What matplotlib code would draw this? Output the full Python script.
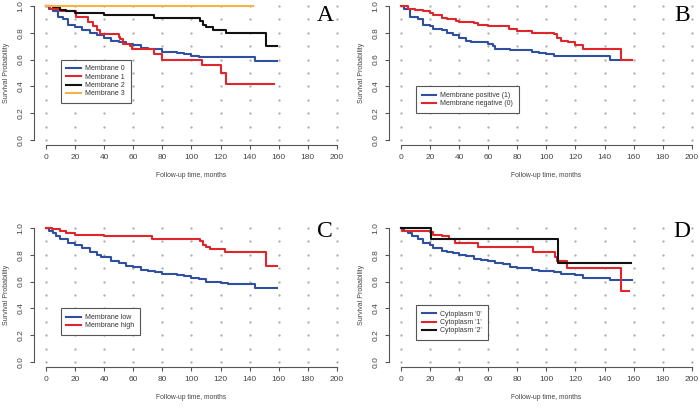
import numpy as np
import matplotlib.pyplot as plt

plt.rcParams['font.family'] = ['Liberation Sans', 'DejaVu Sans']

BLUE = '#2f4fa0'
RED = '#e0252b'
BLACK = '#111111'
ORANGE = '#f2b449'

# Kaplan-Meier steps: (time, survival) pairs, last time = end of curve
# panel A
a_m0_t = [0, 2, 5, 8, 12, 15, 20, 25, 30, 35, 40, 45, 50, 55, 60, 65, 70, 80, 90, 95, 100, 105, 144, 159]
a_m0_s = [1.0, 0.98, 0.96, 0.92, 0.90, 0.86, 0.84, 0.82, 0.80, 0.78, 0.76, 0.74, 0.73, 0.72, 0.71, 0.69, 0.68, 0.66, 0.65, 0.64, 0.63, 0.62, 0.59, 0.59]
a_m1_t = [0, 3, 10, 21, 29, 32, 35, 37, 50, 51, 53, 58, 59, 74, 80, 107, 120, 124, 157]
a_m1_s = [1.0, 0.98, 0.96, 0.92, 0.88, 0.85, 0.82, 0.79, 0.77, 0.75, 0.72, 0.70, 0.68, 0.64, 0.60, 0.56, 0.50, 0.42, 0.42]
a_m2_t = [0, 5, 10, 14, 20, 40, 74, 106, 108, 110, 115, 124, 151, 159]
a_m2_s = [1.0, 0.99, 0.97, 0.96, 0.95, 0.93, 0.91, 0.89, 0.86, 0.84, 0.82, 0.80, 0.70, 0.70]
a_m3_t = [0, 142]
a_m3_s = [1.0, 1.0]

# panel B
b_pos_t = [0, 2, 6, 12, 15, 20, 22, 28, 32, 36, 40, 45, 48, 60, 63, 65, 75, 90, 95, 100, 105, 144, 159]
b_pos_s = [1.0, 0.98, 0.92, 0.90, 0.86, 0.85, 0.83, 0.82, 0.80, 0.78, 0.76, 0.74, 0.73, 0.72, 0.70, 0.68, 0.67, 0.66, 0.65, 0.64, 0.63, 0.60, 0.60]
b_neg_t = [0, 5, 10, 15, 20, 22, 28, 32, 38, 40, 50, 53, 60, 74, 80, 90, 105, 107, 110, 115, 120, 125, 151, 159]
b_neg_s = [1.0, 0.98, 0.97, 0.96, 0.95, 0.93, 0.91, 0.90, 0.89, 0.88, 0.87, 0.86, 0.85, 0.83, 0.81, 0.80, 0.79, 0.76, 0.74, 0.73, 0.71, 0.68, 0.60, 0.60]

# panel C
c_low_t = [0, 2, 5, 7, 10, 15, 20, 25, 30, 35, 38, 45, 50, 55, 60, 65, 70, 75, 80, 90, 95, 100, 105, 110, 120, 125, 144, 159]
c_low_s = [1.0, 0.98, 0.96, 0.94, 0.92, 0.89, 0.87, 0.85, 0.82, 0.80, 0.78, 0.75, 0.74, 0.72, 0.71, 0.69, 0.68, 0.67, 0.66, 0.65, 0.64, 0.63, 0.62, 0.60, 0.59, 0.58, 0.55, 0.55]
c_high_t = [0, 4, 10, 14, 20, 40, 73, 106, 108, 110, 113, 123, 151, 159]
c_high_s = [1.0, 0.99, 0.98, 0.96, 0.95, 0.94, 0.92, 0.90, 0.87, 0.86, 0.84, 0.82, 0.72, 0.72]

# panel D
d_c0_t = [0, 2, 5, 8, 12, 15, 20, 22, 28, 32, 36, 40, 45, 50, 55, 60, 65, 70, 75, 80, 90, 95, 105, 110, 120, 125, 144, 159]
d_c0_s = [1.0, 0.98, 0.96, 0.94, 0.92, 0.89, 0.87, 0.85, 0.83, 0.82, 0.81, 0.80, 0.79, 0.77, 0.76, 0.75, 0.74, 0.73, 0.71, 0.70, 0.69, 0.68, 0.67, 0.66, 0.65, 0.63, 0.61, 0.61]
d_c1_t = [0, 1, 20, 22, 28, 33, 37, 53, 91, 106, 107, 114, 151, 157]
d_c1_s = [1.0, 0.98, 0.97, 0.95, 0.94, 0.92, 0.89, 0.86, 0.82, 0.78, 0.75, 0.70, 0.53, 0.53]
d_c2_t = [0, 21, 108, 158]
d_c2_s = [1.0, 0.92, 0.74, 0.74]

panels = [
    ('A', [(a_m0_t, a_m0_s, BLUE, 'Membrane 0'), (a_m1_t, a_m1_s, RED, 'Membrane 1'),
           (a_m2_t, a_m2_s, BLACK, 'Membrane 2'), (a_m3_t, a_m3_s, ORANGE, 'Membrane 3')],
     (0.049, 0.6445), (10.3, 0.60), (192, 0.93)),
    ('B', [(b_pos_t, b_pos_s, BLUE, 'Membrane positive (1)'), (b_neg_t, b_neg_s, RED, 'Membrane negative (0)')],
     (0.556, 0.6445), (10.4, 0.40), (193, 0.93)),
    ('C', [(c_low_t, c_low_s, BLUE, 'Membrane low'), (c_high_t, c_high_s, RED, 'Membrane high')],
     (0.049, 0.1017), (10.3, 0.40), (192, 0.975)),
    ('D', [(d_c0_t, d_c0_s, BLUE, "Cytoplasm '0'"), (d_c1_t, d_c1_s, RED, "Cytoplasm '1'"),
           (d_c2_t, d_c2_s, BLACK, "Cytoplasm '2'")],
     (0.556, 0.1017), (10.4, 0.425), (193, 0.975)),
]

fig = plt.figure(figsize=(7, 4.09), dpi=100)
xt = np.arange(0, 201, 20)
yt = np.arange(0, 1.01, 0.2)
gx, gy = np.meshgrid(xt, np.arange(0, 1.01, 0.1))

for letter, curves, pos, legpos, letpos in panels:
    ax = fig.add_axes([pos[0], pos[1], 0.449, 0.354])
    ax.set_xlim(-8, 208)
    ax.set_ylim(-0.04, 1.04)
    ax.scatter(gx.ravel(), gy.ravel(), s=0.4, color='#a8a8a8', zorder=1)
    for t, s, c, lab in curves:
        ax.step(t, s, where='post', color=c, lw=1.5, label=lab, zorder=3)
    for side in ['top', 'right']:
        ax.spines[side].set_visible(False)
    ax.spines['bottom'].set_bounds(0, 200)
    ax.spines['left'].set_bounds(0, 1)
    for side in ['bottom', 'left']:
        ax.spines[side].set_color('#555555')
        ax.spines[side].set_linewidth(0.8)
    ax.set_xticks(xt)
    ax.set_yticks(yt)
    ax.set_yticklabels(['%.1f' % v for v in yt], rotation=90, va='center')
    ax.tick_params(labelsize=6, length=3, width=0.8, colors='#555555', labelcolor='#444444')
    ax.tick_params(axis='y', pad=4)
    ax.set_xlabel('Follow-up time, months', fontsize=4.9, color='#444444', labelpad=7.5)
    ax.set_ylabel('Survival Probability', fontsize=5, color='#444444', labelpad=5.5)
    ax.text(letpos[0], letpos[1], letter, fontsize=17, family='Liberation Serif',
            ha='center', va='center')
    leg = ax.legend(loc='upper left', bbox_to_anchor=legpos, bbox_transform=ax.transData,
                    fontsize=5, fancybox=False, framealpha=1, edgecolor='#555555',
                    handlelength=2.1, borderpad=0.8, labelspacing=0.2, handletextpad=0.6,
                    borderaxespad=0)
    leg.get_frame().set_linewidth(0.8)
    for txt in leg.get_texts():
        txt.set_color('#333333')

fig.savefig('out.png', dpi=100)
